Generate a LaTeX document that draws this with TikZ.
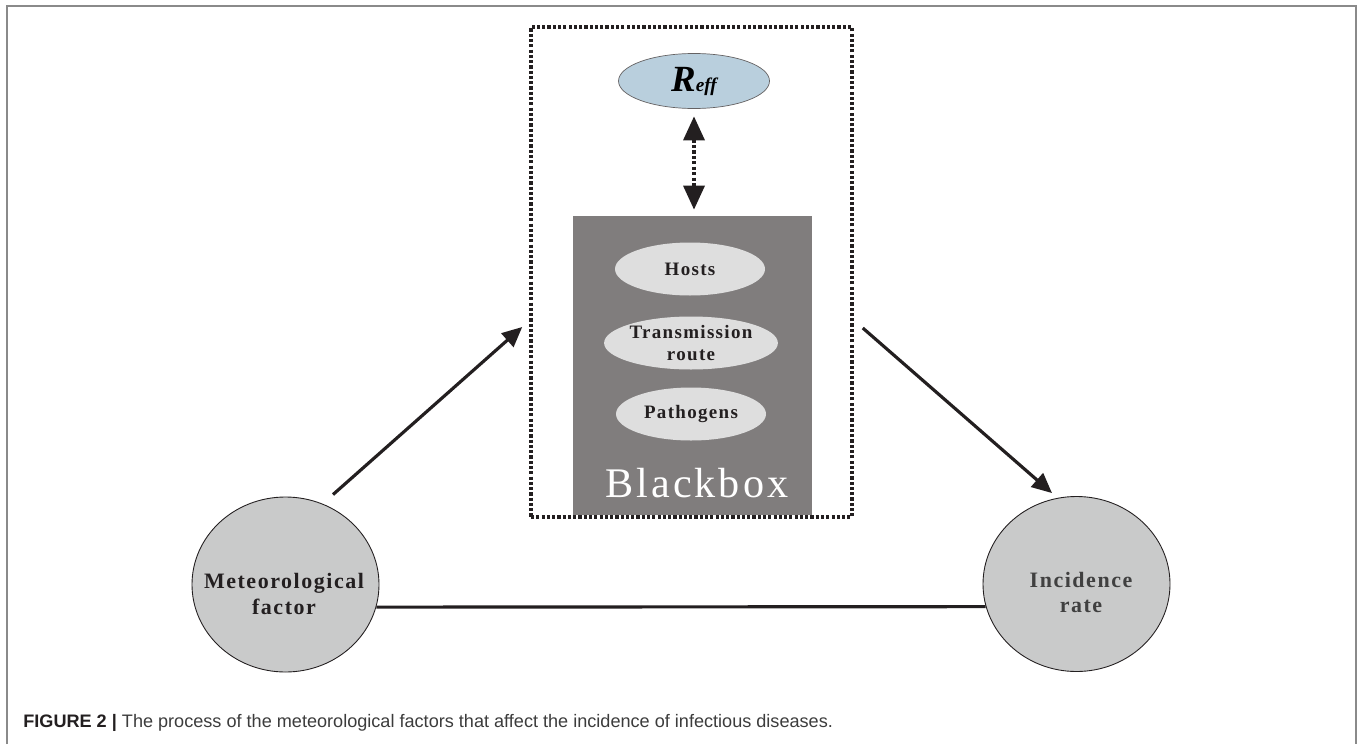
\documentclass[tikz,border=0pt]{standalone}
\usepackage{fontspec}
\setmainfont{Liberation Serif}
\setsansfont{Liberation Sans}
\newfontfamily\wideserif[LetterSpace=7]{Liberation Serif}
\usetikzlibrary{arrows.meta,shapes.geometric}

\definecolor{framegray}{HTML}{8A8A8A}
\definecolor{boxgray}{HTML}{807D7D}
\definecolor{partgray}{HTML}{DEDEDE}
\definecolor{roundgray}{HTML}{C9CACA}
\definecolor{reffblue}{HTML}{B9CFDD}
\definecolor{inkblack}{HTML}{231F20}
\definecolor{captext}{HTML}{3C3C3C}

\begin{document}
\begin{tikzpicture}[
    every node/.style={inner sep=0pt},
    blob/.style={ellipse,draw=inkblack,line width=0.5pt,fill=roundgray,minimum width=3.74cm,minimum height=3.5cm},
    part/.style={ellipse,fill=partgray,minimum width=3cm,minimum height=1.06cm,align=center,
      font=\wideserif\bfseries\fontsize{10.8}{13}\selectfont,text=inkblack},
    tag/.style={align=center,font=\wideserif\bfseries\fontsize{12.5}{14.4}\selectfont},
    bigarrow/.style={draw=inkblack,line width=1.8pt,-{Triangle[length=0.4cm,width=0.36cm]}}
  ]
      \useasboundingbox (0,0) rectangle (27.14,14.88);

      \draw[framegray,line width=1.1pt] (0.14,0) -- (0.14,14.76) -- (27.12,14.76) -- (27.12,0);

      % the black box with its parts
      \node[draw=inkblack,line width=2pt,dash pattern=on 1.8pt off 1.2pt,minimum width=6.42cm,minimum height=9.8cm] (dbox) at (13.83,9.44) {};
      \node[fill=boxgray,minimum width=4.78cm,minimum height=5.98cm] (blk) at (13.85,7.57) {};
      \node[ellipse,draw=inkblack!70,line width=0.4pt,fill=reffblue,minimum width=3.02cm,minimum height=1.1cm] (reff) at (13.88,13.26)
        {{\fontsize{21}{22}\selectfont\bfseries\itshape R}{\fontsize{11}{12}\selectfont\bfseries\itshape eff}};
      \node[part] (hosts) at (13.8,9.5) {Hosts};
      \node[part] (route) at (13.82,8.02) {Transmission\\route};
      \node[part] (patho) at (13.82,6.6) {Pathogens};
      \node[anchor=base,text=white,font=\wideserif\fontsize{24}{28}\selectfont] (blbl) at (13.94,4.94) {Blackbox};

      \draw[inkblack,line width=2pt,dash pattern=on 1.8pt off 1.3pt,
        {Triangle[length=0.48cm,width=0.42cm]}-{Triangle[length=0.48cm,width=0.42cm]},
        shorten <=0.15cm,shorten >=0.12cm] (reff.south) -- (reff.south |- blk.north);

      % the two factors
      \node[blob] (met) at (5.71,3.19) {};
      \node[blob] (inc) at (21.53,3.2) {};
      \node[tag,text=inkblack] (metlbl) at (5.68,3.0) {Meteorological\\factor};
      \node[tag,text=black!75] (inclbl) at (21.62,3.03) {Incidence\\rate};

      \coordinate (a1) at ([shift={(0.95,0.04)}]met.north);
      \coordinate (a2) at ([shift={(-0.14,-1.1)}]dbox.west);
      \coordinate (b1) at ([shift={(0.18,-1.12)}]dbox.east);
      \coordinate (b2) at ([shift={(-0.49,0.06)}]inc.north);
      \draw[bigarrow] (a1) -- (a2);
      \draw[bigarrow] (b1) -- (b2);
      \draw[inkblack,line width=1.8pt] (met.-14.6) -- (inc.194.6);

      \node[anchor=base west,text=captext,font=\sffamily\fontsize{10.3}{12}\selectfont] (cap) at (0.46,0.34)
        {\textcolor{inkblack}{\bfseries FIGURE 2 |} The process of the meteorological factors that affect the incidence of infectious diseases.};
\end{tikzpicture}
\end{document}
